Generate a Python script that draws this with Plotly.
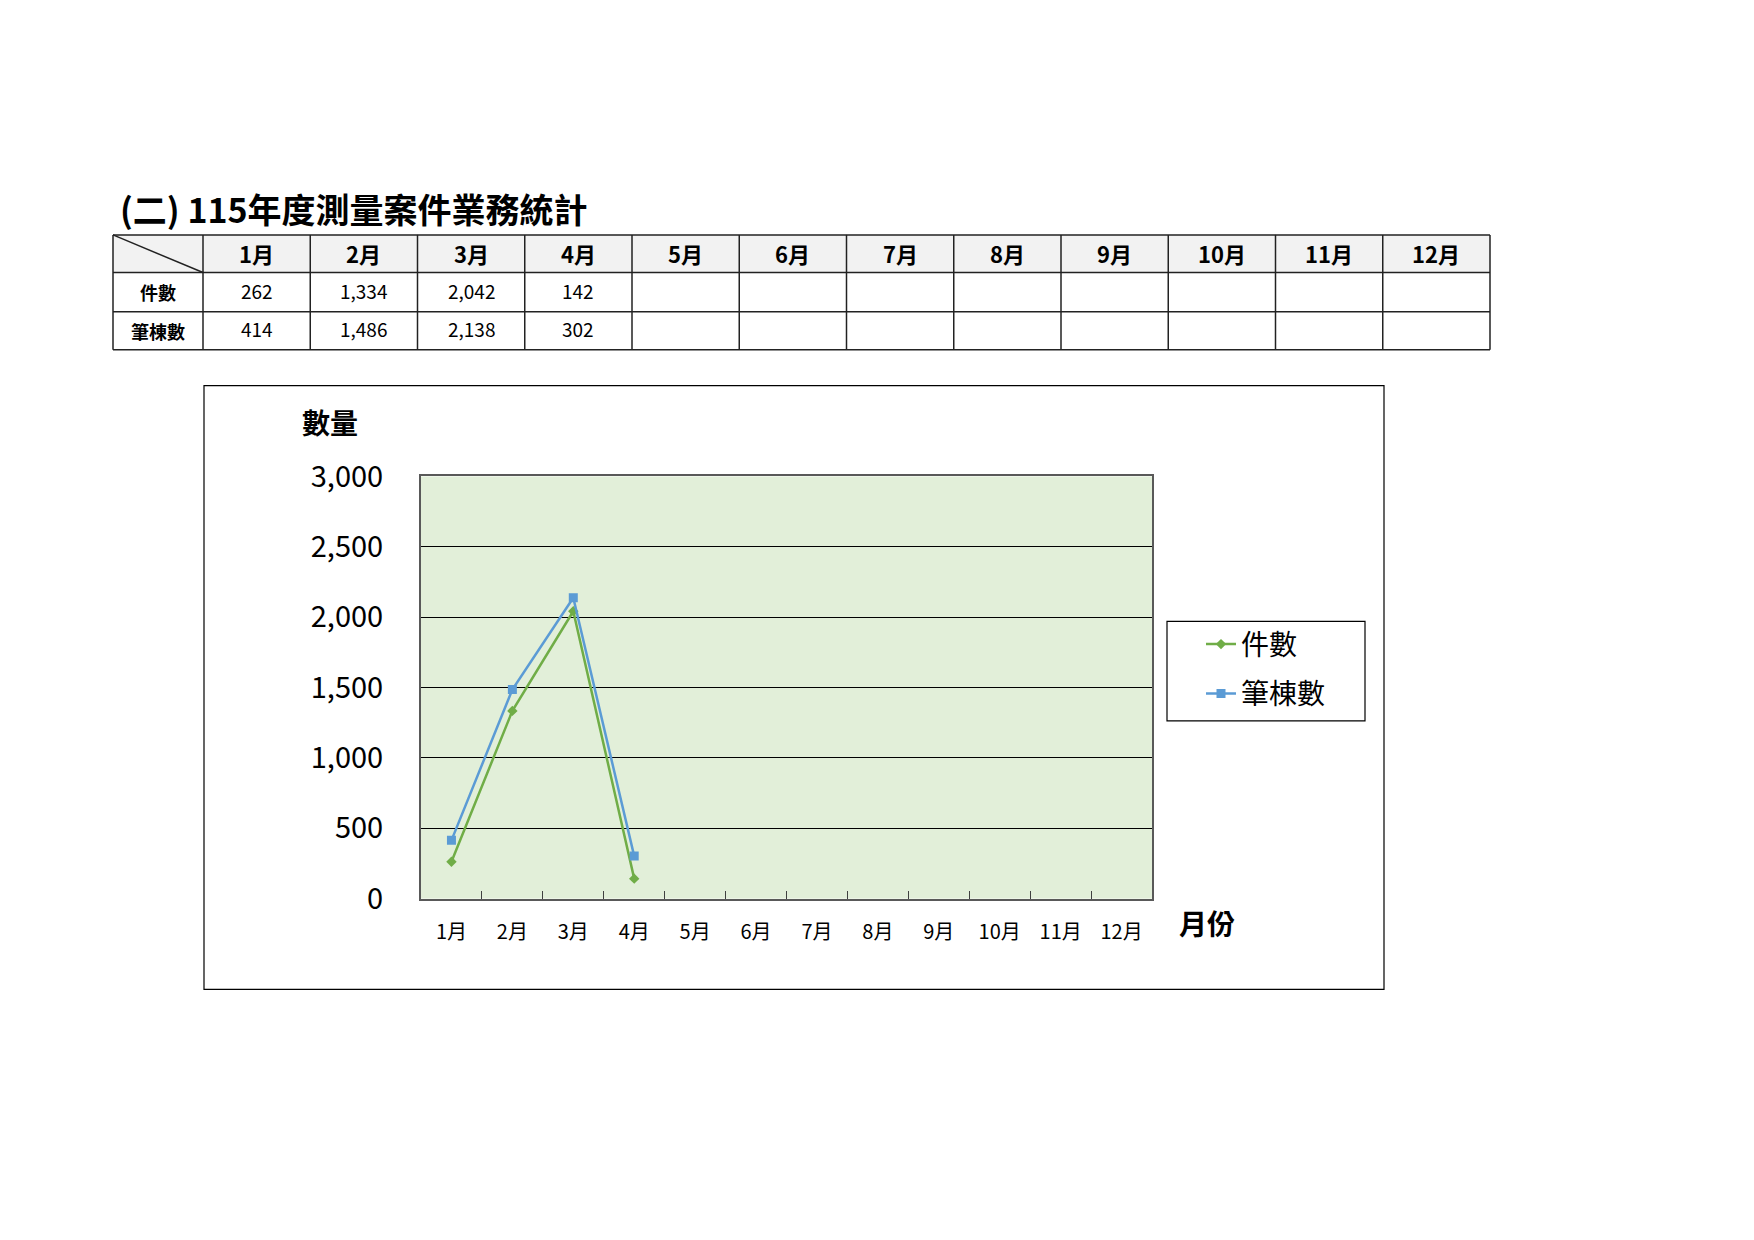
import plotly.graph_objects as go

W, H = 1754, 1240
FONT = "Noto Sans CJK TC"

# --- data
months = ["1月", "2月", "3月", "4月", "5月", "6月", "7月", "8月", "9月", "10月", "11月", "12月"]
cases = [262, 1334, 2042, 142]          # 件數
parcels = [414, 1486, 2138, 302]        # 筆棟數
row_labels = ["件數", "筆棟數"]
y_ticks = [0, 500, 1000, 1500, 2000, 2500, 3000]


def fx(x):
    return x / W


def fy(y):
    return 1 - y / H


def cell_text(vals):
    out = ["{:,}".format(v) for v in vals]
    return out + [""] * (len(months) - len(out))


fig = go.Figure()

# --- lines
fig.add_trace(go.Scatter(
    x=months[:len(cases)], y=cases, name="件數", mode="lines+markers",
    line=dict(color="#70ad47", width=2.5),
    marker=dict(symbol="diamond", size=8, color="#70ad47"),
    legendgroup="a",
))
fig.add_trace(go.Scatter(
    x=months[:len(parcels)], y=parcels, name="筆棟數", mode="lines+markers",
    line=dict(color="#5b9bd5", width=2.5),
    marker=dict(symbol="square", size=9, color="#5b9bd5"),
    legendgroup="b",
))

fig.update_layout(
    width=W, height=H,
    margin=dict(l=0, r=0, t=0, b=0),
    paper_bgcolor="#ffffff",
    plot_bgcolor="#e2efd9",
    font=dict(family=FONT, color="#000000"),
    showlegend=True,
    legend=dict(x=fx(1193), y=fy(608), xanchor="left", yanchor="top",
                borderwidth=0, bgcolor="rgba(0,0,0,0)",
                font=dict(family=FONT, size=28, color="#000000"),
                tracegroupgap=10),
    xaxis=dict(domain=[fx(413), fx(1144)], type="category",
               categoryorder="array", categoryarray=months,
               range=[-0.5, 11.5], tickson="boundaries", ticks="inside",
               ticklen=8, tickcolor="#404040",
               showline=True, linecolor="#595959", linewidth=2, mirror=True,
               showgrid=False, tickfont=dict(size=20, color="#000000"),
               ticklabelstandoff=14),
    yaxis=dict(domain=[fy(897), fy(460)], range=[0, 3000],
               tickvals=y_ticks, tickformat=",", ticks="",
               showline=True, linecolor="#595959", linewidth=2, mirror=True,
               showgrid=True, gridcolor="#000000", gridwidth=1,
               zeroline=False, tickfont=dict(size=29, color="#000000"),
               ticklabelstandoff=30),
)

# --- table (drawn as shapes + annotations)
tx0, tx1 = 105, 1482
label_w = 90
col_w = (tx1 - tx0 - label_w) / len(months)
row_y = [210, 249, 289.5, 329]
col_x = [tx0, tx0 + label_w] + [tx0 + label_w + col_w * (i + 1) for i in range(len(months))]
line_style = dict(color="#222222", width=1.5)

fig.add_shape(type="rect", xref="paper", yref="paper",
              x0=fx(tx0), x1=fx(tx1), y0=fy(row_y[1]), y1=fy(row_y[0]),
              fillcolor="#f2f2f2", line=dict(width=0), layer="below")
for yv in row_y:
    fig.add_shape(type="line", xref="paper", yref="paper",
                  x0=fx(tx0), x1=fx(tx1), y0=fy(yv), y1=fy(yv), line=line_style)
for xv in col_x:
    fig.add_shape(type="line", xref="paper", yref="paper",
                  x0=fx(xv), x1=fx(xv), y0=fy(row_y[0]), y1=fy(row_y[-1]), line=line_style)
fig.add_shape(type="line", xref="paper", yref="paper",
              x0=fx(tx0), y0=fy(row_y[0]), x1=fx(col_x[1]), y1=fy(row_y[1]), line=line_style)


def table_text(text, cx, cy, size, bold=False):
    if bold:
        text = "<b>{}</b>".format(text)
    fig.add_annotation(text=text, xref="paper", yref="paper", x=fx(cx), y=fy(cy),
                       xanchor="center", yanchor="middle", showarrow=False,
                       font=dict(family=FONT, size=size, color="#000000"))


for i, m in enumerate(months):
    cx = (col_x[i + 1] + col_x[i + 2]) / 2
    table_text(m, cx, (row_y[0] + row_y[1]) / 2 - 1, 22, bold=True)
for r, (lab, vals) in enumerate(zip(row_labels, [cases, parcels])):
    cy = (row_y[r + 1] + row_y[r + 2]) / 2
    table_text(lab, (col_x[0] + col_x[1]) / 2, cy, 18, bold=True)
    for i, t in enumerate(cell_text(vals)):
        if t:
            table_text(t, (col_x[i + 1] + col_x[i + 2]) / 2, cy - 2, 19)

# --- frame around chart, legend box
fig.add_shape(type="rect", xref="paper", yref="paper",
              x0=fx(196), x1=fx(1376), y0=fy(991), y1=fy(366),
              line=dict(color="#000000", width=1.2), layer="below")
fig.add_shape(type="rect", xref="paper", yref="paper",
              x0=fx(1159), x1=fx(1357), y0=fy(713), y1=fy(610),
              line=dict(color="#000000", width=1.2), fillcolor="#ffffff", layer="below")

# --- texts
fig.add_annotation(text="<b>(二) 115年度測量案件業務統計</b>", xref="paper", yref="paper",
                   x=fx(110), y=fy(183), xanchor="left", yanchor="middle",
                   showarrow=False, font=dict(family=FONT, size=34, color="#000000"))
fig.add_annotation(text="<b>數量</b>", xref="paper", yref="paper",
                   x=fx(322), y=fy(404), xanchor="center", yanchor="middle",
                   showarrow=False, font=dict(family=FONT, size=28, color="#000000"))
fig.add_annotation(text="<b>月份</b>", xref="paper", yref="paper",
                   x=fx(1199), y=fy(922), xanchor="center", yanchor="middle",
                   showarrow=False, font=dict(family=FONT, size=28, color="#000000"))

fig.write_html("out.html")
